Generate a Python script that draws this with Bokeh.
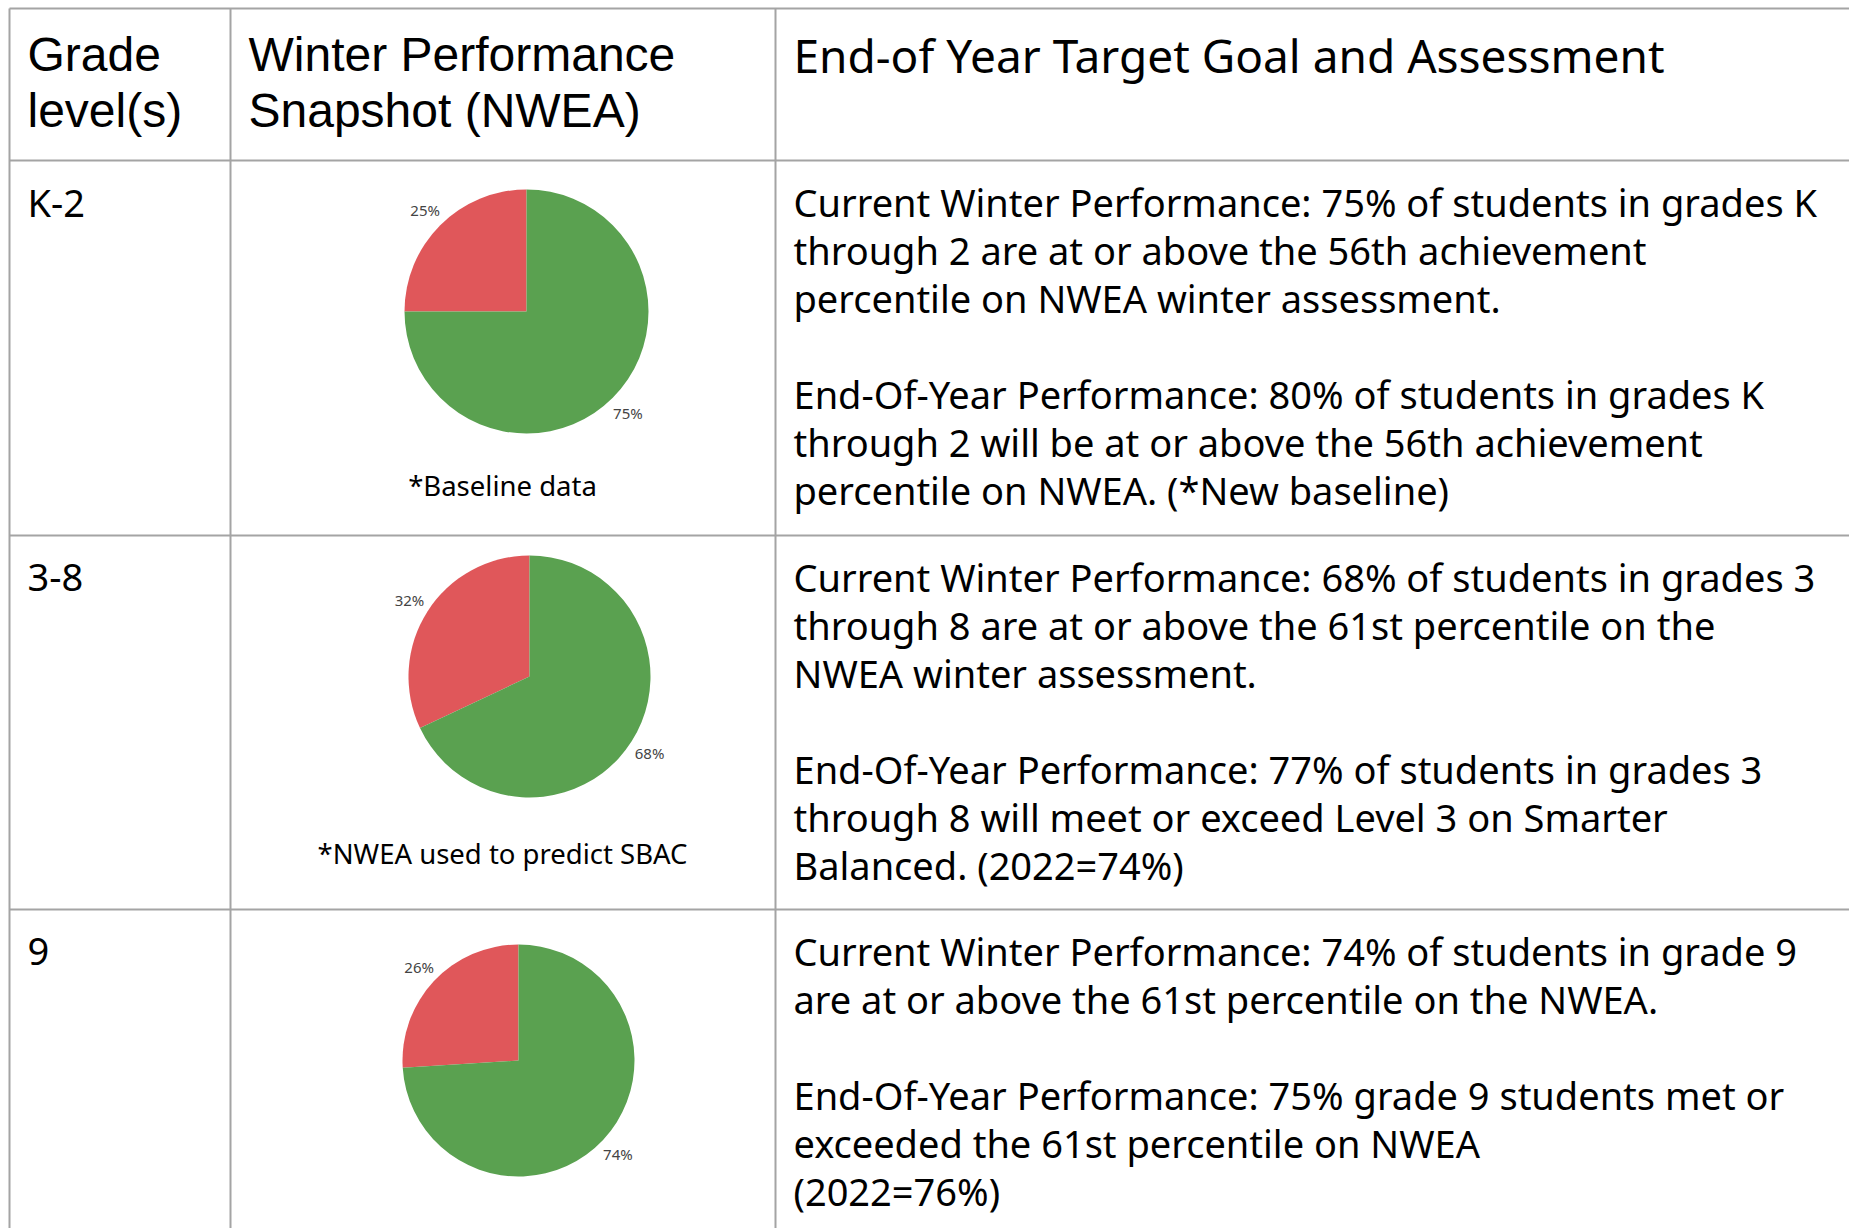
import numpy as np
from bokeh.plotting import figure
from bokeh.models import Range1d
from bokeh.core.properties import value
from bokeh.embed import file_html
from bokeh.resources import INLINE

# ---------------- data ----------------
grade_levels = ["K-2", "3-8", "9"]
pct_met = [75, 68, 74]          # green slice (at / above target percentile)
pct_not_met = [25, 32, 26]      # red slice
pie_notes = ["*Baseline data", "*NWEA used to predict SBAC", ""]

header_grade = ["Grade", "level(s)"]
header_snapshot = ["Winter Performance", "Snapshot (NWEA)"]
header_goal = ["End-of Year Target Goal and Assessment"]

goal_lines = [
    ["Current Winter Performance: 75% of students in grades K",
     "through 2 are at or above the 56th achievement",
     "percentile on NWEA winter assessment.",
     "",
     "End-Of-Year Performance: 80% of students in grades K",
     "through 2 will be at or above the 56th achievement",
     "percentile on NWEA. (*New baseline)"],
    ["Current Winter Performance: 68% of students in grades 3",
     "through 8 are at or above the 61st percentile on the",
     "NWEA winter assessment.",
     "",
     "End-Of-Year Performance: 77% of students in grades 3",
     "through 8 will meet or exceed Level 3 on Smarter",
     "Balanced. (2022=74%)"],
    ["Current Winter Performance: 74% of students in grade 9",
     "are at or above the 61st percentile on the NWEA.",
     "",
     "End-Of-Year Performance: 75% grade 9 students met or",
     "exceeded the 61st percentile on NWEA",
     "(2022=76%)"],
]

# ---------------- style / layout ----------------
GREEN = "#5AA150"
RED = "#E0575A"
GRID = "#A4A4A4"
BODY_FONT = "Noto Sans"
HEAD_FONT = "Liberation Sans"

W, H = 1849, 1228
col_x = [9, 230, 775]
row_y = [8, 160, 535, 909]
pad_x = 18
head_base = [72, 128]
first_base = 56
line_h = 48
pie_cx = [526, 529, 518]
pie_cy = [311, 676, 1060]
pie_r = [122, 121, 116]
note_cx = 502
note_base = [495, 863, 0]
label_dist = 1.175
BASE_FIX = 0.38   # renderer places alphabetic baseline a bit low; compensate

HEAD_PX, GOAL_HEAD_PX, BODY_PX, NOTE_PX = 48, 46, 38, 27.5

p = figure(width=W, height=H, output_backend="svg", toolbar_location=None,
           x_range=Range1d(0, W), y_range=Range1d(-H, 0),
           min_border=0, x_axis_location=None, y_axis_location=None,
           background_fill_color="white", border_fill_color="white")
p.outline_line_color = None
p.grid.visible = False


def Y(v, px=0):
    return [-(t - BASE_FIX * px) for t in v]


# grid lines
right_edge = W + 10
bottom_edge = H + 10
p.segment(x0=[col_x[0]] * len(row_y), x1=[right_edge] * len(row_y),
          y0=Y(row_y), y1=Y(row_y), line_color=GRID, line_width=2)
p.segment(x0=col_x, x1=col_x, y0=Y([row_y[0]] * 3), y1=Y([bottom_edge] * 3),
          line_color=GRID, line_width=2)

# header texts
p.text(x=[col_x[0] + pad_x] * 2, y=Y(head_base, HEAD_PX), text=header_grade,
       text_font=value(HEAD_FONT), text_font_size=f"{HEAD_PX}px", text_color="black",
       text_baseline="alphabetic", text_align="left")
p.text(x=[col_x[1] + pad_x] * 2, y=Y(head_base, HEAD_PX), text=header_snapshot,
       text_font=value(HEAD_FONT), text_font_size=f"{HEAD_PX}px", text_color="black",
       text_baseline="alphabetic", text_align="left")
p.text(x=[col_x[2] + pad_x], y=Y(head_base[:1], GOAL_HEAD_PX), text=header_goal,
       text_font=value(BODY_FONT), text_font_size=f"{GOAL_HEAD_PX}px", text_color="black",
       text_baseline="alphabetic", text_align="left")

# grade labels
p.text(x=[col_x[0] + pad_x] * 3, y=Y([r + first_base for r in row_y[1:]], BODY_PX),
       text=grade_levels, text_font=value(BODY_FONT), text_font_size=f"{BODY_PX}px",
       text_color="black", text_baseline="alphabetic", text_align="left")

# goal paragraphs
gx, gb, gt = [], [], []
for i, lines in enumerate(goal_lines):
    for j, ln in enumerate(lines):
        if ln:
            gx.append(col_x[2] + pad_x)
            gb.append(row_y[i + 1] + first_base + j * line_h)
            gt.append(ln)
p.text(x=gx, y=Y(gb, BODY_PX), text=gt, text_font=value(BODY_FONT),
       text_font_size=f"{BODY_PX}px", text_color="black",
       text_baseline="alphabetic", text_align="left")

# pies
for i in range(3):
    red_end = np.pi / 2 + np.deg2rad(pct_not_met[i] * 3.6)
    p.wedge(x=[pie_cx[i]], y=[-pie_cy[i]], radius=pie_r[i], radius_units="screen",
            start_angle=np.pi / 2, end_angle=red_end, fill_color=RED, line_color=None)
    p.wedge(x=[pie_cx[i]], y=[-pie_cy[i]], radius=pie_r[i], radius_units="screen",
            start_angle=red_end, end_angle=np.pi / 2 + 2 * np.pi,
            fill_color=GREEN, line_color=None)
    mid_red = np.pi / 2 + np.deg2rad(pct_not_met[i] * 1.8)
    mid_green = red_end + np.deg2rad(pct_met[i] * 1.8)
    d = label_dist * pie_r[i]
    lx = [pie_cx[i] + d * np.cos(mid_red), pie_cx[i] + d * np.cos(mid_green)]
    ly = [-pie_cy[i] + d * np.sin(mid_red), -pie_cy[i] + d * np.sin(mid_green)]
    p.text(x=lx, y=ly, text=[f"{pct_not_met[i]}%", f"{pct_met[i]}%"],
           text_font=value(BODY_FONT), text_font_size="15px", text_color="#444444",
           text_baseline="middle", text_align="center")
    if pie_notes[i]:
        p.text(x=[note_cx], y=Y([note_base[i]], NOTE_PX), text=[pie_notes[i]],
               text_font=value(BODY_FONT), text_font_size=f"{NOTE_PX}px", text_color="black",
               text_baseline="alphabetic", text_align="center")

open("out.html", "w").write(file_html(p, INLINE))
